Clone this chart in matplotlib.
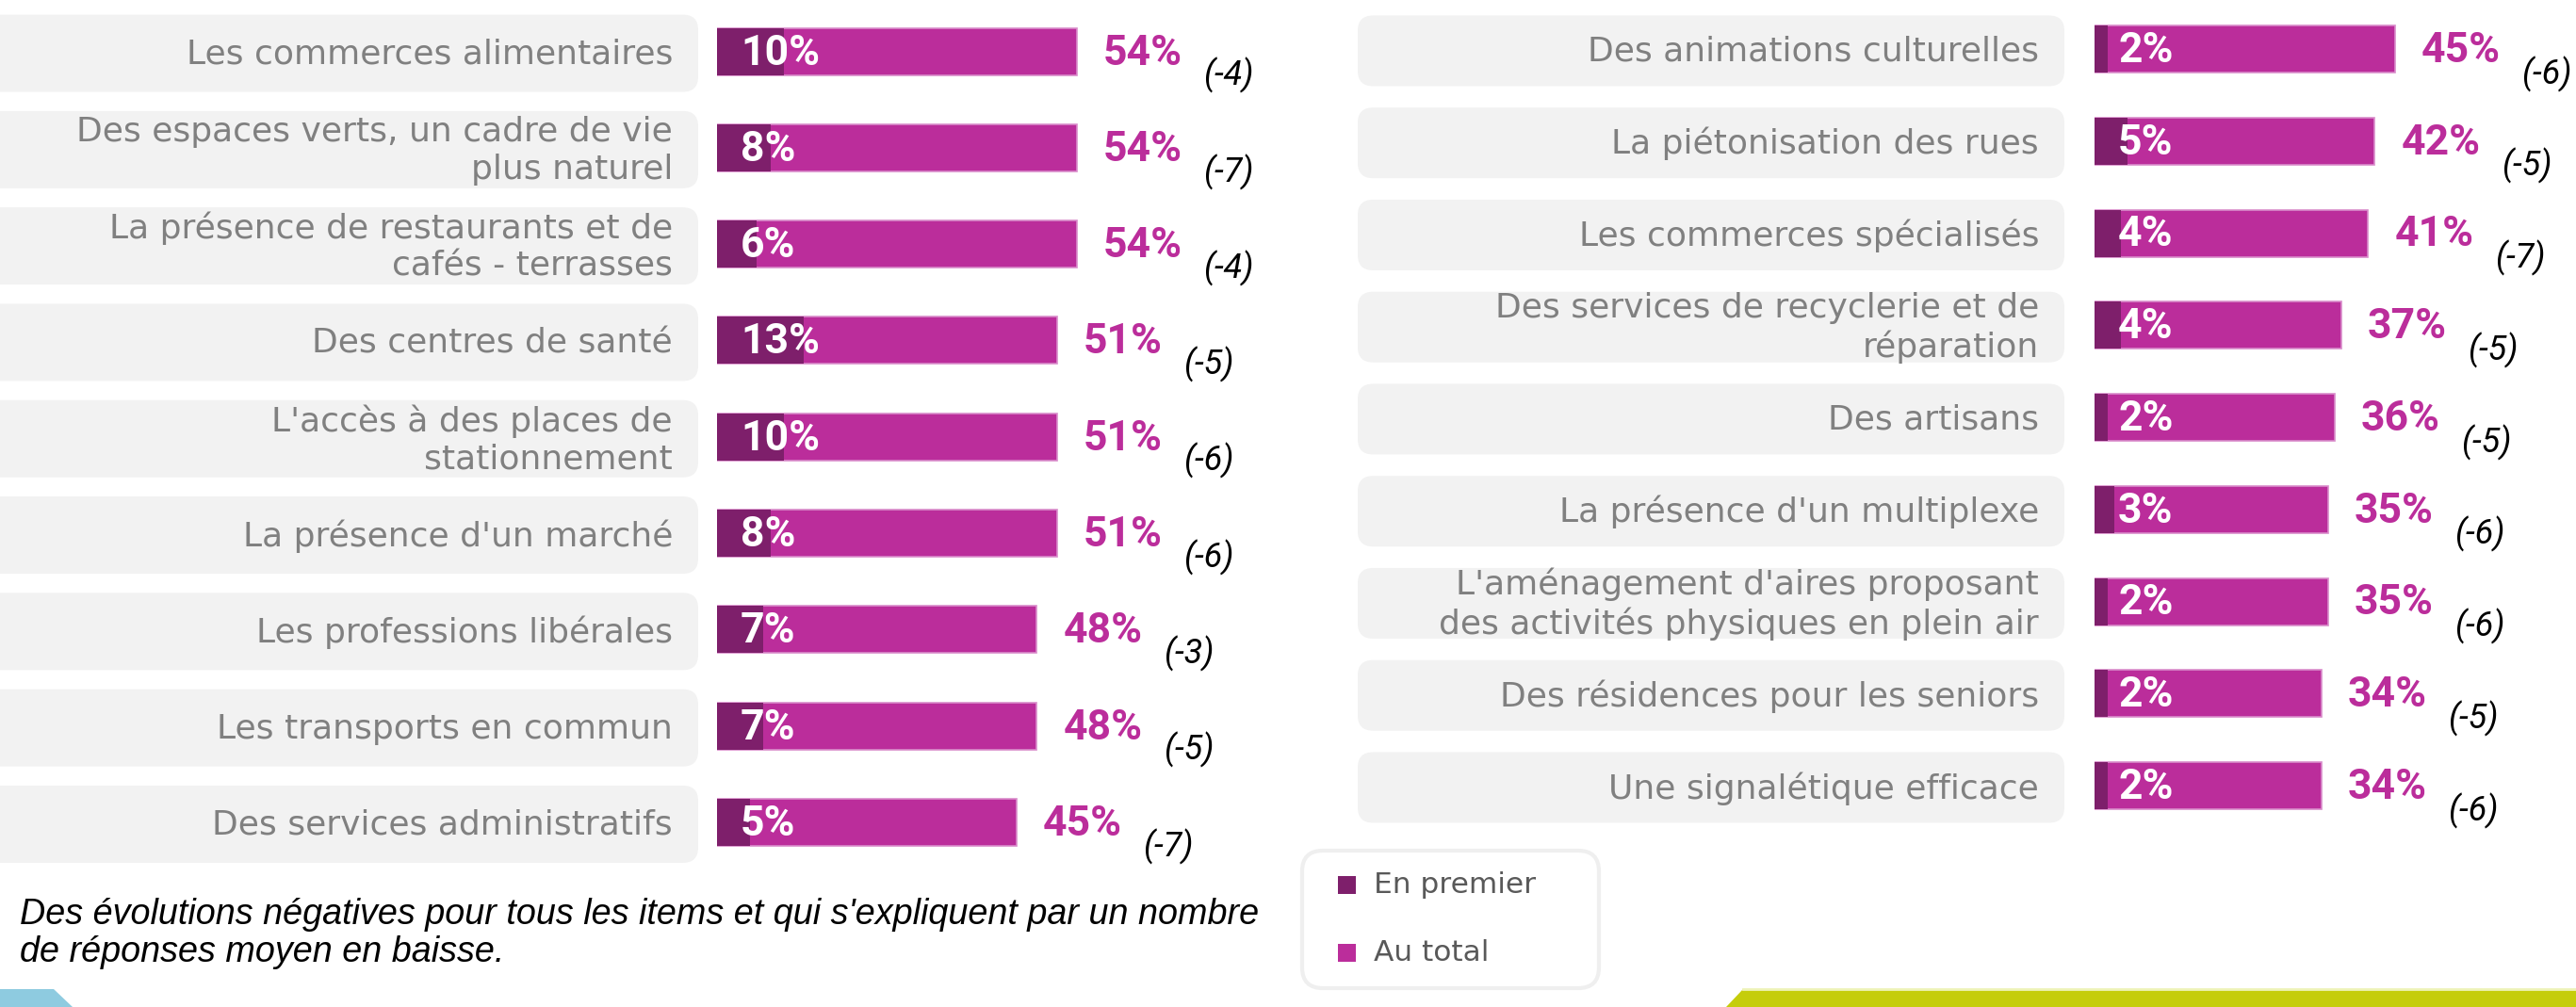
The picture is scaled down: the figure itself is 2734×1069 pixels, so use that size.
import matplotlib.pyplot as plt
from matplotlib.patches import FancyBboxPatch, Polygon, Rectangle

W, H = 2734, 1069

left_labels = ["Les commerces alimentaires",
               "Des espaces verts, un cadre de vie\nplus naturel",
               "La présence de restaurants et de\ncafés - terrasses",
               "Des centres de santé",
               "L'accès à des places de\nstationnement",
               "La présence d'un marché",
               "Les professions libérales",
               "Les transports en commun",
               "Des services administratifs"]
left_first = [10, 8, 6, 13, 10, 8, 7, 7, 5]
left_total = [54, 54, 54, 51, 51, 51, 48, 48, 45]
left_change = ["(-4)", "(-7)", "(-4)", "(-5)", "(-6)", "(-6)", "(-3)", "(-5)", "(-7)"]

right_labels = ["Des animations culturelles",
                "La piétonisation des rues",
                "Les commerces spécialisés",
                "Des services de recyclerie et de\nréparation",
                "Des artisans",
                "La présence d'un multiplexe",
                "L'aménagement d'aires proposant\ndes activités physiques en plein air",
                "Des résidences pour les seniors",
                "Une signalétique efficace"]
right_first = [2, 5, 4, 4, 2, 3, 2, 2, 2]
right_total = [45, 42, 41, 37, 36, 35, 35, 34, 34]
right_change = ["(-6)", "(-5)", "(-7)", "(-5)", "(-5)", "(-6)", "(-6)", "(-5)", "(-6)"]

legend_labels = ["En premier", "Au total"]
note = ("Des évolutions négatives pour tous les items et qui s'expliquent par un nombre\n"
        "de réponses moyen en baisse.")

DARK = "#7e1f6b"
MAG = "#bb2d9b"
BOX = "#f2f2f2"
GREY = "#808080"
NUMF = ["Roboto", "DejaVu Sans"]

fig = plt.figure(figsize=(W / 100, H / 100), dpi=100)

# full-figure overlay in pixel coords for decorations / legend / note
bg = fig.add_axes([0, 0, 1, 1])
bg.set_xlim(0, W)
bg.set_ylim(H, 0)
bg.axis("off")


def panel(x0, width, ppu, c0, step, labels, first, total, change,
          box_x0, box_x1, box_h, text_x, chg_dy):
    top = c0 - 0.5 * step
    bottom = c0 + (len(labels) - 0.5) * step
    ax = fig.add_axes([x0 / W, 1 - bottom / H, width / W, (bottom - top) / H])
    ax.set_xlim(0, width / ppu)
    ax.set_ylim(len(labels) - 0.5, -0.5)
    ax.axis("off")
    ys = list(range(len(labels)))
    bh = 50 / step
    ax.barh(ys, total, height=bh, color=MAG, edgecolor="#d98ccb", linewidth=1.2)
    ax.barh(ys, first, height=bh, color=DARK, linewidth=0)
    asp = ppu / step
    for i, y in enumerate(ys):
        bx0 = (box_x0 - x0) / ppu
        bx1 = (box_x1 - x0) / ppu
        bh2 = box_h / step
        p = FancyBboxPatch((bx0, y - bh2 / 2 + 0.02), bx1 - bx0, bh2,
                           boxstyle="round,pad=0,rounding_size=2.3",
                           mutation_aspect=asp, facecolor=BOX, edgecolor="none",
                           clip_on=False, zorder=0)
        ax.add_patch(p)
        ax.text((text_x - x0) / ppu, y + 0.03, labels[i], ha="right", va="center",
                fontsize=26, color=GREY, linespacing=1.22, clip_on=False)
        ax.text(25 / ppu, y + 0.02, f"{first[i]}%", ha="left", va="center",
                fontsize=32, color="white", fontweight="bold", family=NUMF)
        ax.text(total[i] + 28 / ppu, y + 0.02, f"{total[i]}%", ha="left", va="center",
                fontsize=32, color=MAG, fontweight="bold", family=NUMF)
        ax.text(total[i] + 19.0, y + chg_dy, change[i], ha="left", va="center",
                fontsize=26, color="black", style="italic", family=NUMF)
    return ax


panel(761, 700, 7.07, 54.5, 102.3, left_labels, left_first, left_total, left_change,
      -20, 741, 82, 714, 0.25)
panel(2223, 500, 7.08, 52, 97.75, right_labels, right_first, right_total, right_change,
      1441, 2191, 75, 2164, 0.27)

# legend box
bg.add_patch(FancyBboxPatch((1382, 903), 315, 146,
                            boxstyle="round,pad=0,rounding_size=22",
                            facecolor="white", edgecolor="#efefef", linewidth=3))
for k, (lab, col) in enumerate(zip(legend_labels, [DARK, MAG])):
    yc = 939 + 72 * k
    bg.add_patch(Rectangle((1420, yc - 9), 19, 19, facecolor=col, edgecolor="none"))
    bg.text(1458, yc, lab, ha="left", va="center", fontsize=22.5, color="#595959")

# note
bg.text(21, 991, note, ha="left", va="center", fontsize=27.2, style="italic",
        color="black", family=["Liberation Sans", "DejaVu Sans"], linespacing=1.17)

# bottom decorations
bg.add_patch(Polygon([(0, 1050), (57, 1050), (77, 1069), (0, 1069)],
                     closed=True, facecolor="#8ecbe0", edgecolor="none"))
bg.add_patch(Polygon([(1850, 1050), (W, 1050), (W, 1069), (1832, 1069)],
                     closed=True, facecolor="#c5cd0b", edgecolor="none"))
bg.plot([1850, W], [1050, 1050], color="#eef3b8", linewidth=2)

fig.savefig("out.png", dpi=100)
